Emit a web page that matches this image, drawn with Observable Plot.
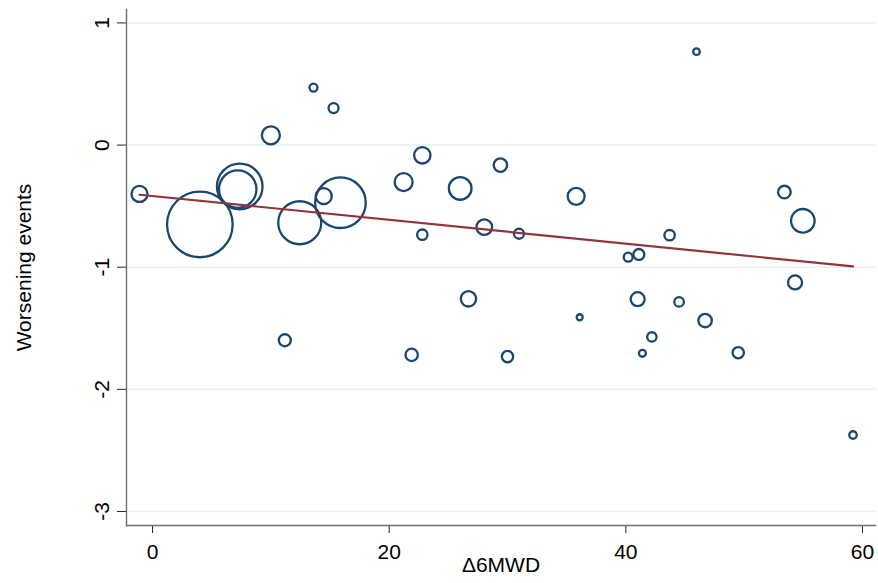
<!DOCTYPE html>
<html>
<head>
<meta charset="utf-8">
<script src="https://cdn.jsdelivr.net/npm/d3@7"></script>
<script src="https://cdn.jsdelivr.net/npm/@observablehq/plot@0.6"></script>
<style>
  html, body { margin: 0; padding: 0; background: #fff; }
  #chart svg { display: block; }
</style>
</head>
<body>
<div id="chart"></div>
<script>
// Study-level values
const delta6MWD = [-1.1, 4.0, 7.37, 7.2, 12.44, 14.47, 15.88, 10.0, 11.18, 13.6, 15.3, 21.22, 22.8, 26.0, 29.4, 35.8, 22.8, 28.04, 30.97, 43.7, 40.2, 41.1, 53.4, 54.96, 54.3, 41.0, 44.5, 46.7, 42.2, 41.4, 49.5, 36.1, 26.7, 21.9, 30.0, 59.2, 45.97];
const worsening = [-0.40, -0.65, -0.339, -0.361, -0.636, -0.418, -0.472, 0.08, -1.598, 0.471, 0.303, -0.303, -0.084, -0.355, -0.164, -0.42, -0.734, -0.672, -0.726, -0.738, -0.918, -0.896, -0.385, -0.62, -1.125, -1.262, -1.284, -1.437, -1.571, -1.705, -1.70, -1.41, -1.259, -1.718, -1.732, -2.374, 0.765];
const weight = [64, 1076, 520, 350, 462, 64, 640, 81, 36, 16, 25, 81, 67, 128, 45, 72, 27, 61, 25, 27, 20, 30, 40, 139, 49, 49, 23, 45, 22, 12, 32, 9, 59, 38, 32, 14, 11];

// Meta-regression fit line
const fitIntercept = -0.4174;
const fitSlope = -0.00974;

const xTicks = [0, 20, 40, 60];
const yTicks = [-3, -2, -1, 0, 1];
const xLabel = "\u03946MWD";
const yLabel = "Worsening events";

const studies = delta6MWD.map((x, i) => ({x, y: worsening[i], w: weight[i]}));
const xMin = d3.min(delta6MWD), xMax = d3.max(delta6MWD);
const fit = [xMin, xMax].map(x => ({x, y: fitIntercept + fitSlope * x}));

const navy = "#1a476f";
const maroon = "#90353b";
const axisGray = "#6e6e6e";

const plot = Plot.plot({
  width: 878,
  height: 583,
  marginLeft: 126,
  marginRight: 3,
  marginTop: 9,
  marginBottom: 58,
  style: {fontFamily: "'Liberation Sans', Arial, sans-serif", fontSize: "21px", color: "#000", background: "#fff"},
  x: {domain: [-2.2, 61.1]},
  y: {domain: [-3.115, 1.11]},
  r: {type: "sqrt", domain: [0, 1089], range: [0, 33]},
  marks: [
    Plot.gridY(yTicks, {stroke: "#e8eff3", strokeOpacity: 1, strokeWidth: 1.6}),
    Plot.axisY({ticks: yTicks, tickSize: 9, tickPadding: 8.7, tickRotate: -90, tickFormat: d => String(d), label: null, stroke: "#222", fontSize: 21}),
    Plot.axisX({ticks: xTicks, tickSize: 8, tickPadding: 10.3, tickFormat: d => String(d), label: null, stroke: "#222", fontSize: 21}),
    Plot.frame({anchor: "left", stroke: axisGray, strokeWidth: 1.4}),
    Plot.frame({anchor: "bottom", stroke: axisGray, strokeWidth: 1.4}),
    Plot.dot(studies, {x: "x", y: "y", r: "w", stroke: navy, strokeWidth: 2.3, fill: "none"}),
    Plot.line(fit, {x: "x", y: "y", stroke: maroon, strokeWidth: 2.2}),
    Plot.text([xLabel], {frameAnchor: "bottom", dy: 46.7, fontSize: 21, fill: "#000"}),
    Plot.text([yLabel], {frameAnchor: "left", textAnchor: "middle", dx: -102, rotate: -90, fontSize: 21, fill: "#000"})
  ]
});
document.getElementById("chart").appendChild(plot);
</script>
</body>
</html>
